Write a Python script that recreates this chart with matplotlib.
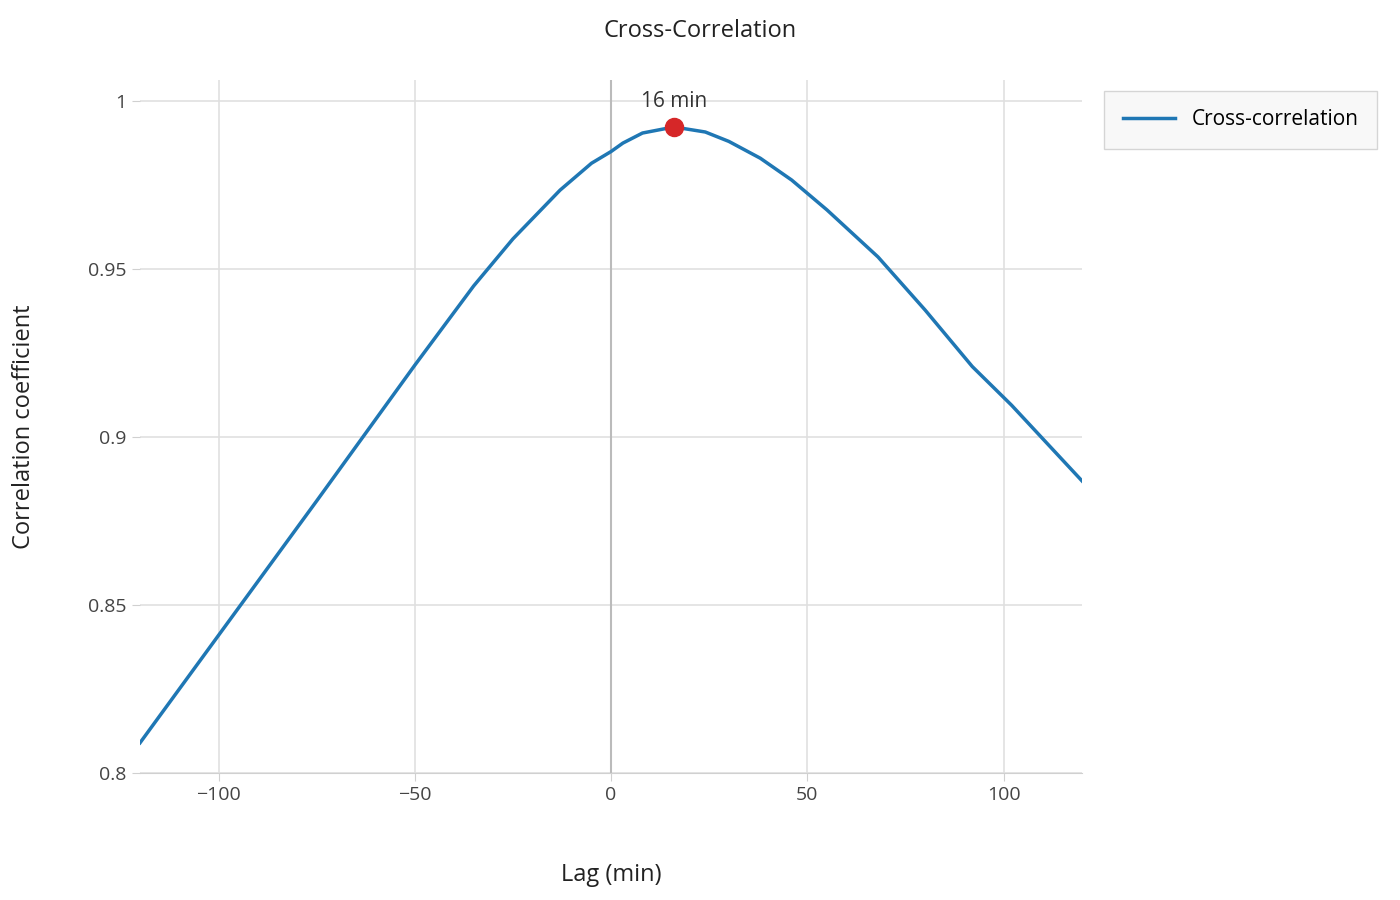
import matplotlib.pyplot as plt

plt.rcParams['font.family'] = ['Open Sans', 'DejaVu Sans']

lag_min = [-120, -100, -75, -50, -35, -25, -13, -5, 0, 3, 8, 16, 24, 30, 38, 46, 55, 68, 80, 92, 102, 120]
corr = [0.809, 0.841, 0.881, 0.9214, 0.945, 0.959, 0.9735, 0.9815, 0.985, 0.9875, 0.9905, 0.9923,
        0.9908, 0.988, 0.983, 0.9765, 0.9676, 0.9536, 0.9378, 0.921, 0.9095, 0.8869]
peak_lag = 16
peak_corr = 0.9923

fig = plt.figure(figsize=(14, 9), dpi=100)
ax = fig.add_axes([0.1, 0.141, 0.673, 0.77])

ax.plot(lag_min, corr, color='#1f77b4', lw=2.5, label='Cross-correlation', zorder=3)
ax.plot([peak_lag], [peak_corr], 'o', color='#d62728', ms=13, zorder=4)
ax.annotate('{} min'.format(peak_lag), xy=(peak_lag, peak_corr), xytext=(0, 11),
            textcoords='offset points', ha='center', va='bottom', fontsize=15, color='#333333')

ax.set_xlim(-120, 120)
ax.set_ylim(0.8, 1.00625)
ax.set_xticks([-100, -50, 0, 50, 100])
ax.set_xticklabels(['\u2212100', '\u221250', '0', '50', '100'])
ax.set_yticks([0.8, 0.85, 0.9, 0.95, 1.0])
ax.set_yticklabels(['0.8', '0.85', '0.9', '0.95', '1'])
ax.grid(True, color='#e0e0e0', lw=1.2)
ax.axvline(0, color='#bbbbbb', lw=1.5, zorder=2)
for s in ['top', 'right', 'left']:
    ax.spines[s].set_visible(False)
ax.spines['bottom'].set_color('#d0d0d0')
ax.tick_params(axis='both', colors='#444444', labelsize=14, length=6)
ax.tick_params(axis='both', color='#d0d0d0')

ax.set_xlabel('Lag (min)', fontsize=17, color='#222222', labelpad=42)
ax.set_ylabel('Correlation coefficient', fontsize=17, color='#222222', labelpad=38)
fig.text(0.5, 0.966, 'Cross-Correlation', ha='center', va='center', fontsize=17, color='#222222')

leg = ax.legend(loc='upper left', bbox_to_anchor=(1.012, 1.0), fontsize=15, frameon=True,
                fancybox=False, borderpad=0.9, handlelength=2.5)
leg.get_frame().set_facecolor('#f7f7f7')
leg.get_frame().set_edgecolor('#cccccc')

fig.savefig('out.png')
